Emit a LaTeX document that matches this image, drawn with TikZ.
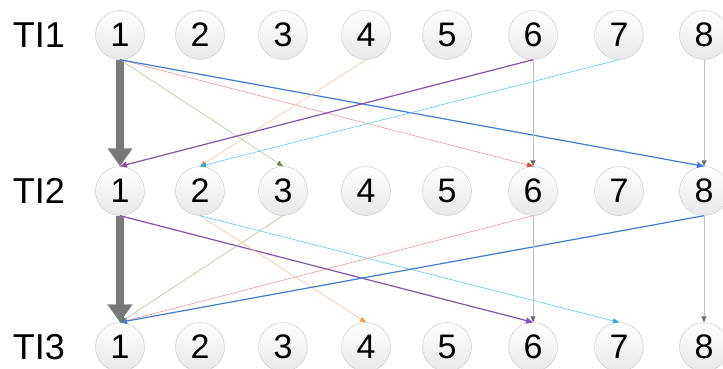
\documentclass[tikz,border=0pt]{standalone}
\usepackage{fontspec}
\setmainfont{Liberation Sans}
\usetikzlibrary{arrows.meta}

\definecolor{lnblue}{RGB}{66,122,204}
\definecolor{lnpurple}{RGB}{130,82,172}
\definecolor{lnred}{RGB}{242,150,150}
\definecolor{tipred}{RGB}{222,64,64}
\definecolor{lnorange}{RGB}{252,196,150}
\definecolor{tiporange}{RGB}{250,150,50}
\definecolor{lncyan}{RGB}{90,200,240}
\definecolor{tipcyan}{RGB}{30,170,240}
\definecolor{lngreen}{RGB}{176,198,150}
\definecolor{tipgreen}{RGB}{96,140,50}
\definecolor{lngray}{RGB}{192,192,192}
\definecolor{tipgray}{RGB}{110,110,110}

\tikzset{
  state/.style={circle, draw=gray!45, inner sep=0pt, minimum size=49pt,
    top color=white, bottom color=gray!18, font=\fontsize{34}{34}\selectfont},
  rowlabel/.style={font=\fontsize{36}{36}\selectfont},
  link/.style={line width=0.6pt},
  boldlink/.style={line width=1.2pt},
  mainlink/.style={line width=8pt, draw=gray!95!black,
    -{Triangle[length=18pt,width=24pt]}}
}

\begin{document}
\begin{tikzpicture}[x=1pt,y=-1pt]
  \useasboundingbox (0,0) rectangle (723,369);
  % row labels
  \node[rowlabel] (ti1) at (39,35) {TI1};
  \node[rowlabel] (ti2) at (39,191) {TI2};
  \node[rowlabel] (ti3) at (39,347) {TI3};
  % states of the three rows
  \foreach \x [count=\i] in {120,200,283,366,447,533,619,704} {
    \node[state] (a\i) at (\x,35) {\i};
    \node[state] (b\i) at (\x,191) {\i};
    \node[state] (c\i) at (\x,347) {\i};
  }
  % main chain
  \draw[mainlink] (a1.south) -- (b1.north);
  \draw[mainlink] (b1.south) -- (c1.north);
  % TI1 -> TI2
  \draw[link, lngreen, -{Triangle[length=6pt,width=5pt,color=tipgreen]}] (a1.south) -- (b3.north);
  \draw[link, lnred, -{Triangle[length=6pt,width=5pt,color=tipred]}] (a1.south) -- (b6.north);
  \draw[boldlink, lnblue, -{Triangle[length=7pt,width=6pt]}] (a1.south) -- (b8.north);
  \draw[link, lnorange, -{Triangle[length=6pt,width=5pt,color=tiporange]}] (a4.south) -- (b2.north);
  \draw[boldlink, lnpurple, -{Triangle[length=7pt,width=6pt]}] (a6.south) -- (b1.north);
  \draw[link, lncyan, -{Triangle[length=6pt,width=5pt,color=tipcyan]}] (a7.south) -- (b2.north);
  \draw[link, lngray, -{Triangle[length=6pt,width=5pt,color=tipgray]}] (a6.south) -- (b6.north);
  \draw[link, lngray, -{Triangle[length=6pt,width=5pt,color=tipgray]}] (a8.south) -- (b8.north);
  % TI2 -> TI3
  \draw[boldlink, lnpurple, -{Triangle[length=7pt,width=6pt]}] (b1.south) -- (c6.north);
  \draw[link, lnorange, -{Triangle[length=6pt,width=5pt,color=tiporange]}] (b2.south) -- (c4.north);
  \draw[link, lncyan, -{Triangle[length=6pt,width=5pt,color=tipcyan]}] (b2.south) -- (c7.north);
  \draw[link, lngreen, -{Triangle[length=6pt,width=5pt,color=tipgreen]}] (b3.south) -- (c1.north);
  \draw[link, lnred, -{Triangle[length=6pt,width=5pt,color=tipred]}] (b6.south) -- (c1.north);
  \draw[boldlink, lnblue, -{Triangle[length=7pt,width=6pt]}] (b8.south) -- (c1.north);
  \draw[link, lngray, -{Triangle[length=6pt,width=5pt,color=tipgray]}] (b6.south) -- (c6.north);
  \draw[link, lngray, -{Triangle[length=6pt,width=5pt,color=tipgray]}] (b8.south) -- (c8.north);
\end{tikzpicture}
\end{document}
